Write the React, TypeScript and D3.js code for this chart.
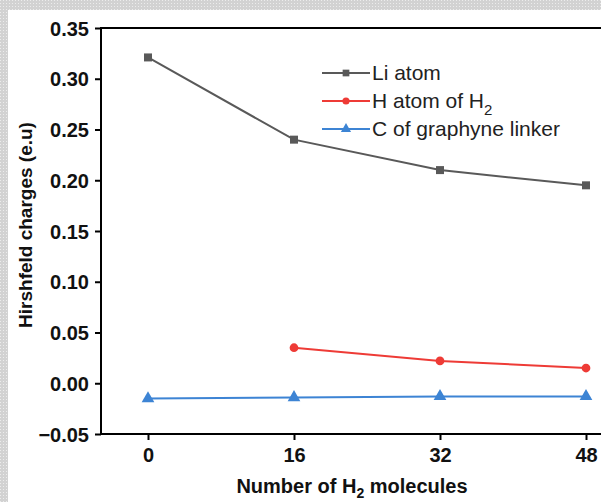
import React, { useEffect, useRef } from 'react';
import * as d3 from 'd3';

// number of H2 molecules
const molecules = [0, 16, 32, 48];
const liAtom = [0.321, 0.240, 0.210, 0.195];
const hAtom = [null, 0.035, 0.022, 0.015];
const cLinker = [-0.015, -0.014, -0.013, -0.013];
const yTicks = [-0.05, 0, 0.05, 0.1, 0.15, 0.2, 0.25, 0.3, 0.35];

const seriesNames = ['Li atom', 'H atom of H', 'C of graphyne linker'];
const seriesColors = ['#595959', '#ee3b36', '#3d84d4'];
const seriesShapes = ['square', 'circle', 'triangle'];

const W = 601;
const H = 502;

const App = () => {
	const svgRef = useRef<SVGSVGElement>(null);

	useEffect(() => {
		const svg = d3.select(svgRef.current);
		svg.selectAll('*').remove();
		const font = '"Liberation Sans", Arial, sans-serif';

		// grey frame of the figure
		const defs = svg.append('defs');
		const pat = defs.append('pattern')
			.attr('id', 'chk').attr('width', 3).attr('height', 3)
			.attr('patternUnits', 'userSpaceOnUse');
		pat.append('rect').attr('width', 3).attr('height', 3).attr('fill', '#d2d2d2');
		pat.append('rect').attr('width', 1).attr('height', 1).attr('fill', '#ececec');
		svg.append('rect').attr('width', W).attr('height', H).attr('fill', 'url(#chk)');
		svg.append('rect').attr('x', 8).attr('y', 10).attr('width', W - 8).attr('height', H - 10).attr('fill', '#fff');

		const left = 101, top = 28, bottom = 434;
		const x = d3.scaleLinear().domain([0, 48]).range([148, 586]);
		const y = d3.scaleLinear().domain([-0.05, 0.35]).range([bottom, top]);

		// axes
		const yAxis = d3.axisLeft(y).tickValues(yTicks).tickSize(6).tickSizeOuter(0)
			.tickPadding(6).tickFormat(d3.format('.2f'));
		const gy = svg.append('g').attr('transform', `translate(${left},0)`).call(yAxis);
		gy.select('.domain').remove();
		const xAxis = d3.axisBottom(x).tickValues(molecules).tickSize(6).tickSizeOuter(0).tickPadding(8);
		const gx = svg.append('g').attr('transform', `translate(0,${bottom})`).call(xAxis);
		gx.select('.domain').remove();
		[gx, gy].forEach(g => {
			g.selectAll('line').attr('stroke', '#000').attr('stroke-width', 2);
			g.selectAll('text').attr('font-family', font).attr('font-weight', 'bold')
				.attr('font-size', 20).attr('fill', '#111');
		});
		gy.selectAll('text').attr('dy', '0.35em');

		svg.append('line').attr('x1', left).attr('x2', left).attr('y1', top - 1).attr('y2', bottom + 1)
			.attr('stroke', '#000').attr('stroke-width', 2);
		svg.append('line').attr('x1', left).attr('x2', W).attr('y1', bottom).attr('y2', bottom)
			.attr('stroke', '#000').attr('stroke-width', 2);
		svg.append('line').attr('x1', left).attr('x2', W).attr('y1', top).attr('y2', top)
			.attr('stroke', '#000').attr('stroke-width', 2);

		// axis titles
		svg.append('text')
			.attr('transform', `translate(32,225) rotate(-90)`)
			.attr('text-anchor', 'middle').attr('font-family', font).attr('font-weight', 'bold')
			.attr('font-size', 19).attr('fill', '#111')
			.text('Hirshfeld charges (e.u)');
		const xt = svg.append('text')
			.attr('x', 352).attr('y', 493)
			.attr('text-anchor', 'middle').attr('font-family', font).attr('font-weight', 'bold')
			.attr('font-size', 20).attr('fill', '#111');
		xt.append('tspan').text('Number of H');
		xt.append('tspan').attr('font-size', 14).attr('dy', 5).text('2');
		xt.append('tspan').attr('dy', -5).text(' molecules');

		// series
		const all = [liAtom, hAtom, cLinker];
		const line = d3.line<[number, number | null]>()
			.defined(d => d[1] !== null)
			.x(d => x(d[0]))
			.y(d => y(d[1] as number));

		const symbolOf = (s: string) =>
			s === 'square' ? d3.symbol().type(d3.symbolSquare).size(64)
				: s === 'circle' ? d3.symbol().type(d3.symbolCircle).size(60)
					: d3.symbol().type(d3.symbolTriangle).size(70);

		all.forEach((vals, i) => {
			const pts = molecules.map((m, j) => [m, vals[j]] as [number, number | null]);
			svg.append('path').datum(pts).attr('d', line).attr('fill', 'none')
				.attr('stroke', seriesColors[i]).attr('stroke-width', 2);
			svg.append('g').selectAll('path')
				.data(pts.filter(d => d[1] !== null))
				.join('path')
				.attr('transform', d => `translate(${x(d[0])},${y(d[1] as number)})`)
				.attr('d', symbolOf(seriesShapes[i])())
				.attr('fill', seriesColors[i]);
		});

		// legend
		const lg = svg.append('g');
		seriesNames.forEach((name, i) => {
			const ly = 73 + i * 28;
			lg.append('line').attr('x1', 322).attr('x2', 370).attr('y1', ly).attr('y2', ly)
				.attr('stroke', seriesColors[i]).attr('stroke-width', 2);
			lg.append('path').attr('transform', `translate(346,${ly})`)
				.attr('d', d3.symbol().type(
					seriesShapes[i] === 'square' ? d3.symbolSquare
						: seriesShapes[i] === 'circle' ? d3.symbolCircle : d3.symbolTriangle
				).size(seriesShapes[i] === 'circle' ? 40 : 45)())
				.attr('fill', seriesColors[i]);
			const t = lg.append('text').attr('x', 372).attr('y', ly).attr('dy', '0.35em')
				.attr('font-family', font).attr('font-size', 21).attr('fill', '#222');
			t.append('tspan').text(name);
			if (i === 1) t.append('tspan').attr('font-size', 15).attr('dy', 7).text('2');
		});
	}, []);

	return (
		<div style={{ position: 'absolute', left: 0, top: 0 }}>
			<svg ref={svgRef} width={W} height={H} style={{ display: 'block' }}></svg>
		</div>
	);
};

export default App;
